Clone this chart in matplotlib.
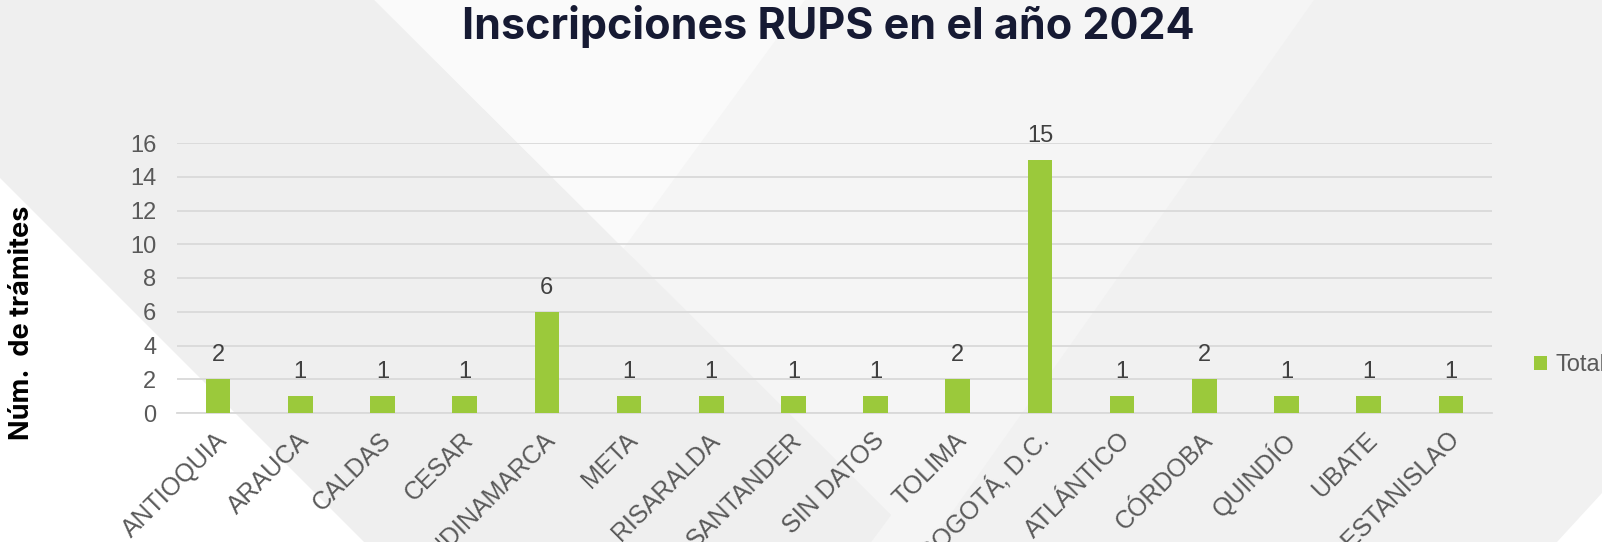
import matplotlib
matplotlib.use('Agg')
import matplotlib.pyplot as plt
import matplotlib.transforms as mtransforms
from matplotlib.patches import Polygon

# ── datos ─────────────────────────────────────────────────────────
departamentos = ['ANTIOQUIA', 'ARAUCA', 'CALDAS', 'CESAR', 'CUNDINAMARCA', 'META',
                 'RISARALDA', 'SANTANDER', 'SIN DATOS', 'TOLIMA', 'BOGOTÁ, D.C.',
                 'ATLÁNTICO', 'CÓRDOBA', 'QUINDÍO', 'UBATE', 'SAN ESTANISLAO']
total = [2, 1, 1, 1, 6, 1, 1, 1, 1, 2, 15, 1, 2, 1, 1, 1]
y_ticks = [0, 2, 4, 6, 8, 10, 12, 14, 16]

titulo = 'Inscripciones RUPS en el año 2024'
etiqueta_y = 'Núm.  de trámites'
serie = 'Total'

VERDE = '#9BC93B'
GRIS_TXT = '#595959'
W, H = 1602, 542

fig = plt.figure(figsize=(W / 100, H / 100), dpi=100)

# ── fondo con formas diagonales ───────────────────────────────────
bg = fig.add_axes([0, 0, 1, 1], zorder=-10)
bg.set_xlim(0, W)
bg.set_ylim(H, 0)
bg.axis('off')
formas = [
    ('#f1f1f1', [(0, 0), (W, 0), (W, H), (0, H)]),
    ('#f5f5f5', [(374, 0), (1314, 0), (931, H), (871, H), (891, 515)]),
    ('#fafafa', [(374, 0), (805, 0), (623, 249)]),
    ('#efefef', [(0, 0), (374, 0), (891, 515), (871, H), (0, H)]),
    ('#ffffff', [(0, 178), (364, H), (0, H)]),
    ('#ffffff', [(W, 493), (1557, H), (W, H)]),
]
for color, pts in formas:
    bg.add_patch(Polygon(pts, closed=True, facecolor=color, edgecolor='none'))

# ── gráfico de barras ─────────────────────────────────────────────
ax = fig.add_axes([177 / W, 1 - 413 / H, (1492 - 177) / W, (413 - 143) / H])
ax.patch.set_alpha(0)
x = range(len(departamentos))
ax.bar(x, total, width=0.3, color=VERDE, label=serie, zorder=3)

for xi, v in zip(x, total):
    ax.annotate(str(v), (xi, v), xytext=(0, 13), textcoords='offset points',
                ha='center', va='baseline', fontsize=17, color='#404040',
                family='Liberation Sans')

ax.set_xlim(-0.5, len(departamentos) - 0.5)
ax.set_ylim(0, 16)
ax.set_yticks(y_ticks)
ax.grid(axis='y', color='#d9d9d9', linewidth=1.3, zorder=0)
ax.set_axisbelow(True)
for s in ['top', 'right', 'left']:
    ax.spines[s].set_visible(False)
ax.spines['bottom'].set_color('#d9d9d9')
ax.spines['bottom'].set_linewidth(1.3)
ax.tick_params(axis='y', length=0, labelsize=17, labelcolor=GRIS_TXT, pad=15)
ax.set_xticks(list(x))
ax.set_xticklabels(departamentos, rotation=45, ha='right', va='center',
                   rotation_mode='anchor')
ax.tick_params(axis='x', length=0, labelsize=18, labelcolor=GRIS_TXT, pad=17)
desplaza = mtransforms.ScaledTranslation(5 / 100, 0, fig.dpi_scale_trans)
for lbl in ax.get_xticklabels():
    lbl.set_transform(lbl.get_transform() + desplaza)
for lbl in ax.get_xticklabels() + ax.get_yticklabels():
    lbl.set_family('Liberation Sans')

ax.legend(loc='center left', bbox_to_anchor=(1534 / W, 1 - 365 / H),
          bbox_transform=fig.transFigure, frameon=False, borderpad=0,
          borderaxespad=0, handlelength=0.55, handleheight=0.55,
          handletextpad=0.35,
          prop={'family': 'Liberation Sans', 'size': 17}, labelcolor=GRIS_TXT)

fig.text(828 / W, 1 - 39 / H, titulo, ha='center', va='baseline',
         fontsize=31, fontweight='bold', color='#161a33', family='Inter')
fig.text(22 / W, 1 - 323 / H, etiqueta_y, rotation=90, ha='center', va='center',
         fontsize=19.5, fontweight='bold', color='black', family='Inter')

fig.savefig('out.png', dpi=100)
